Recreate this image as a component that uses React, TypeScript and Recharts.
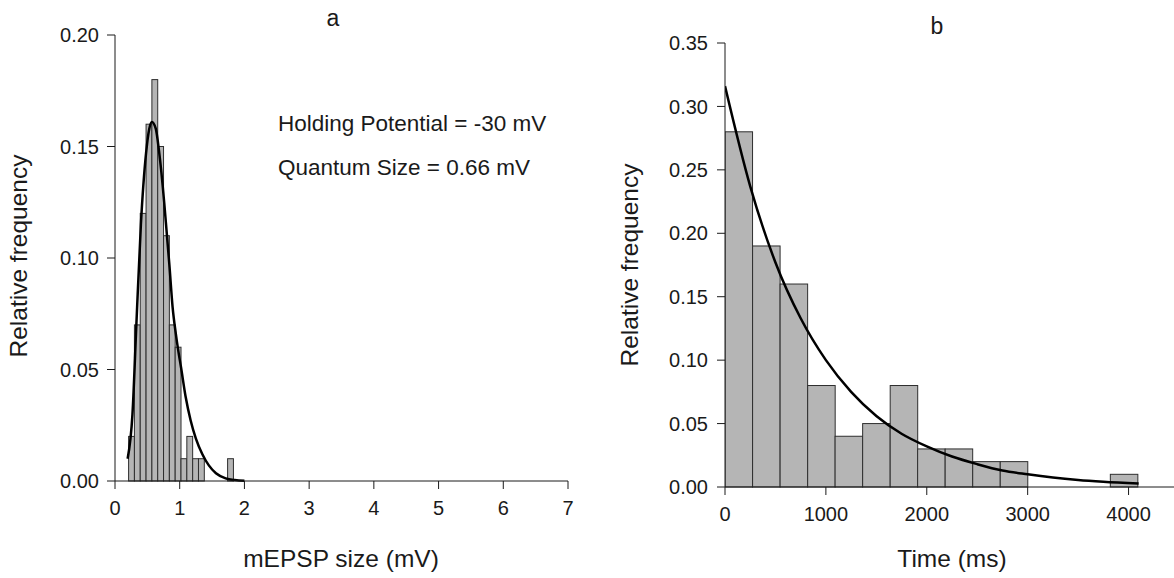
import React from 'react';
import { ComposedChart, Bar, Line, XAxis, YAxis } from 'recharts';

// panel a: mEPSP size histogram (bin centres in mV, relative frequency)
const sizeBins = [0.255, 0.345, 0.435, 0.525, 0.615, 0.705, 0.795, 0.885, 0.975, 1.065, 1.155, 1.245, 1.335, 1.785];
const sizeFreq = [0.02, 0.07, 0.12, 0.16, 0.18, 0.15, 0.11, 0.07, 0.06, 0.01, 0.02, 0.01, 0.01, 0.01];
const sizeFitX = [0.195, 0.27, 0.33, 0.4, 0.48, 0.53, 0.57, 0.63, 0.68, 0.76, 0.8, 0.84, 0.89, 0.94, 0.98, 1.02, 1.09, 1.17, 1.25, 1.35, 1.45, 1.56, 1.71, 1.85, 2.0];
const sizeFitY = [0.01, 0.03, 0.07, 0.115, 0.147, 0.158, 0.161, 0.158, 0.148, 0.125, 0.111, 0.097, 0.078, 0.066, 0.058, 0.051, 0.038, 0.027, 0.019, 0.012, 0.007, 0.0035, 0.0012, 0.0004, 0.0001];
const sizeTicksX = [0, 1, 2, 3, 4, 5, 6, 7];
const sizeTicksY = [0, 0.05, 0.1, 0.15, 0.2];

// panel b: interval histogram (bin centres in ms)
const timeBins = [136, 409, 682, 955, 1227, 1500, 1773, 2045, 2318, 2591, 2864, 3136, 3409, 3682, 3955];
const timeFreq = [0.28, 0.19, 0.16, 0.08, 0.04, 0.05, 0.08, 0.03, 0.03, 0.02, 0.02, 0, 0, 0, 0.01];
const timeFitX = [0, 250, 500, 750, 1000, 1250, 1500, 1750, 2000, 2250, 2500, 2750, 3000, 3250, 3500, 3750, 4100];
const timeFitY = [0.316, 0.237, 0.177, 0.133, 0.1, 0.075, 0.056, 0.042, 0.032, 0.024, 0.018, 0.013, 0.01, 0.0075, 0.0056, 0.0042, 0.0027];
const timeTicksX = [0, 1000, 2000, 3000, 4000];
const timeTicksY = [0, 0.05, 0.1, 0.15, 0.2, 0.25, 0.3, 0.35];

const FONT = '"Liberation Sans", Arial, sans-serif';
const INK = '#1a1a1a';
const BAR_FILL = '#b5b5b5';
const BAR_EDGE = '#2e2e2e';

const sizeBinWidth = 0.09;
const timeBinWidth = 272.7;

// plot widths in px (used to turn bin width into a bar width)
const PLOT_W_A = 453;
const PLOT_W_B = 454;

const histBar = (w: number) => (props: any) => {
  const { x, y, width, height } = props;
  if (!height || height <= 0) return <g />;
  const mid = x + width / 2;
  return <rect x={mid - w / 2} y={y} width={w} height={height} fill={BAR_FILL} stroke={BAR_EDGE} strokeWidth={1} />;
};

const tickStyle = { fontSize: 20, fill: INK, fontFamily: FONT };
const axisLine = { stroke: INK, strokeWidth: 1 };

export default function App() {
  const sizeData = sizeBins.map((x, i) => ({ x, freq: sizeFreq[i] }));
  const sizeFit = sizeFitX.map((x, i) => ({ x, fit: sizeFitY[i] }));
  const timeData = timeBins.map((x, i) => ({ x, freq: timeFreq[i] }));
  const timeFit = timeFitX.map((x, i) => ({ x, fit: timeFitY[i] }));

  const barA = (sizeBinWidth / 7) * PLOT_W_A;
  const barB = (timeBinWidth / 4500) * PLOT_W_B;

  return (
    <div style={{ position: 'absolute', left: 0, top: 0, width: 1174, height: 578, overflow: 'hidden', background: '#fff' }}>
      <div style={{ position: 'absolute', left: 0, top: 0 }}>
        <ComposedChart width={600} height={578} data={sizeData} margin={{ top: 35, right: 32, bottom: 37, left: 15 }}>
          <XAxis
            dataKey="x"
            type="number"
            domain={[0, 7]}
            ticks={sizeTicksX}
            height={60}
            tickSize={8}
            tickMargin={12}
            tick={tickStyle}
            axisLine={axisLine}
            tickLine={axisLine}
            allowDataOverflow
          />
          <YAxis
            type="number"
            domain={[0, 0.2]}
            ticks={sizeTicksY}
            width={100}
            tickSize={8}
            tickMargin={8}
            tick={tickStyle}
            axisLine={axisLine}
            tickLine={axisLine}
            tickFormatter={(v: number) => v.toFixed(2)}
          />
          <Bar dataKey="freq" isAnimationActive={false} shape={histBar(barA)} />
          <Line data={sizeFit} dataKey="fit" type="monotone" stroke="#000" strokeWidth={2.5} dot={false} isAnimationActive={false} />
        </ComposedChart>
      </div>
      <div style={{ position: 'absolute', left: 600, top: 0 }}>
        <ComposedChart width={579} height={578} data={timeData} margin={{ top: 43, right: 0, bottom: 31, left: 25 }}>
          <XAxis
            dataKey="x"
            type="number"
            domain={[0, 4500]}
            ticks={timeTicksX}
            height={60}
            tickSize={8}
            tickMargin={12}
            tick={tickStyle}
            axisLine={axisLine}
            tickLine={axisLine}
            allowDataOverflow
          />
          <YAxis
            type="number"
            domain={[0, 0.35]}
            ticks={timeTicksY}
            width={100}
            tickSize={8}
            tickMargin={9}
            tick={tickStyle}
            axisLine={axisLine}
            tickLine={axisLine}
            tickFormatter={(v: number) => v.toFixed(2)}
          />
          <Bar dataKey="freq" isAnimationActive={false} shape={histBar(barB)} />
          <Line data={timeFit} dataKey="fit" type="monotone" stroke="#000" strokeWidth={2.5} dot={false} isAnimationActive={false} />
        </ComposedChart>
      </div>
      <svg width={1174} height={578} style={{ position: 'absolute', left: 0, top: 0, pointerEvents: 'none' }} fontFamily={FONT} fill={INK}>
        <text x={333} y={26} fontSize={23} textAnchor="middle">a</text>
        <text x={937} y={34} fontSize={23} textAnchor="middle">b</text>
        <text x={278} y={131} fontSize={22.5}>Holding Potential = -30 mV</text>
        <text x={278} y={175} fontSize={22.5}>Quantum Size = 0.66 mV</text>
        <text x={341} y={567} fontSize={24.5} textAnchor="middle">mEPSP size (mV)</text>
        <text x={952} y={567} fontSize={24.5} textAnchor="middle">Time (ms)</text>
        <text x={27} y={256} fontSize={24.5} textAnchor="middle" transform="rotate(-90 27 256)">Relative frequency</text>
        <text x={638} y={265} fontSize={24.5} textAnchor="middle" transform="rotate(-90 638 265)">Relative frequency</text>
      </svg>
    </div>
  );
}
